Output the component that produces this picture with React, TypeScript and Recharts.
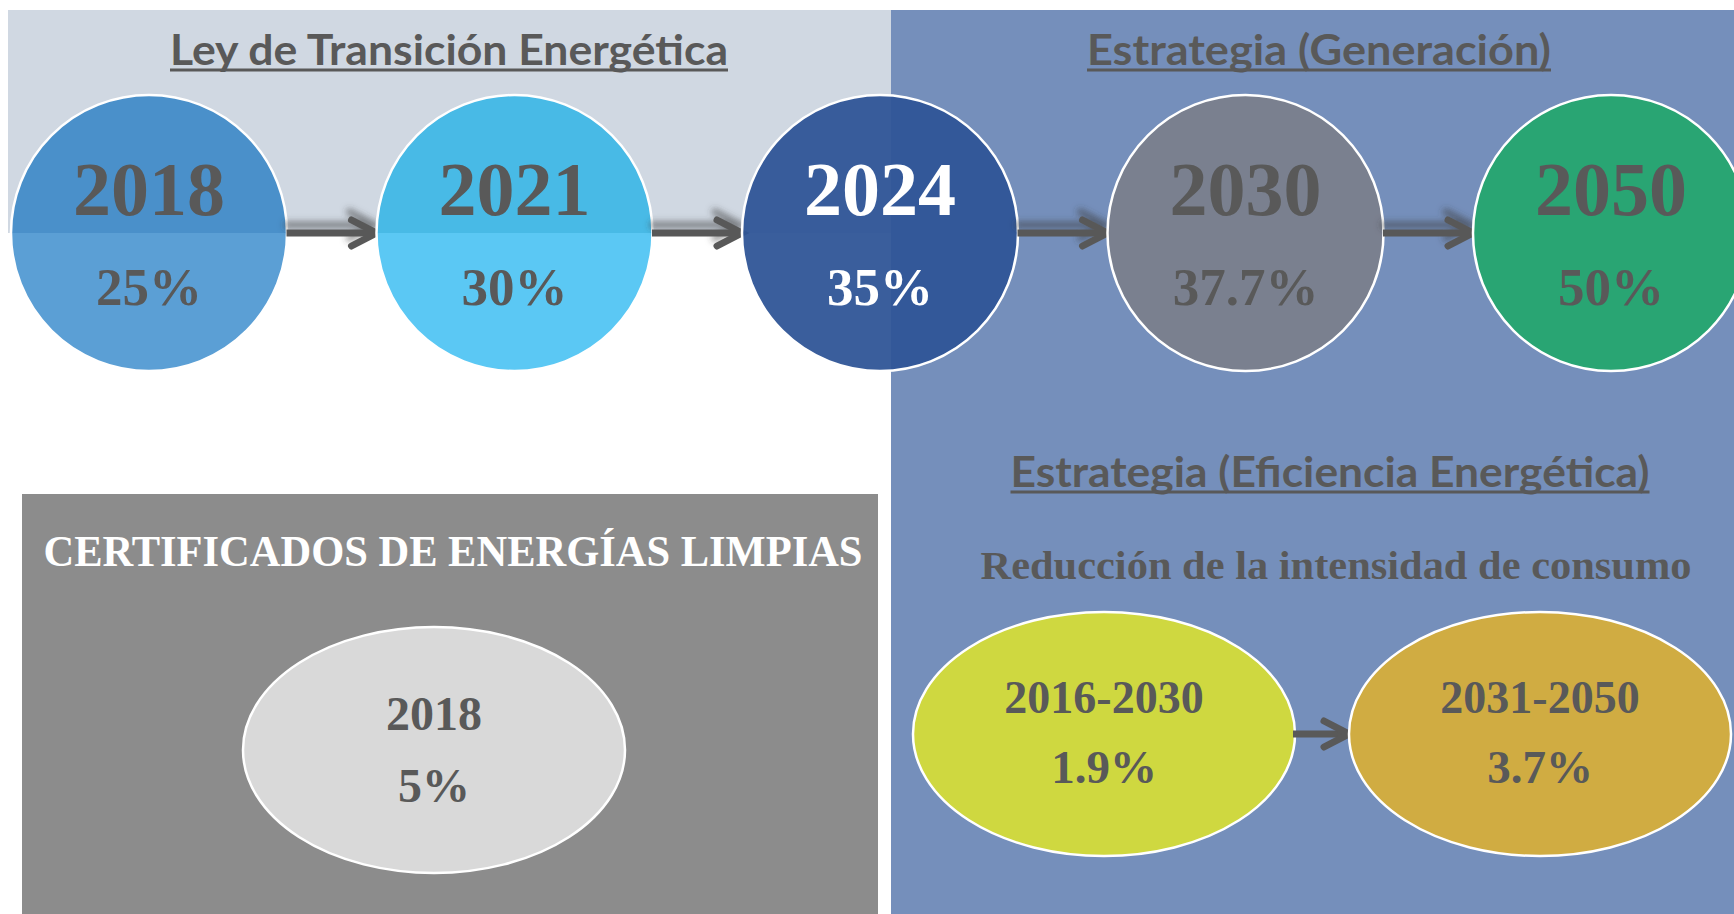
import React from 'react'
import { ScatterChart, Scatter, XAxis, YAxis } from 'recharts'

// Ley de Transición Energética / Estrategia (Generación)
const genYears = ['2018', '2021', '2024', '2030', '2050']
const genShares = [25, 30, 35, 37.7, 50]

// Certificados de energías limpias
const celYears = ['2018']
const celShares = [5]

// Estrategia (Eficiencia Energética): reducción de la intensidad de consumo
const effPeriods = ['2016-2030', '2031-2050']
const effRates = [1.9, 3.7]

const genFills = ['#5B9FD5', '#5BC8F4', '#2F5597', '#7A808F', '#29A573']
const genTopFills = ['#4A90CA', '#48BAE6', null, null, null]
const genText = ['#595959', '#595959', '#FFFFFF', '#595959', '#595959']
const effFills = ['#CFD840', '#D0AC42']

const DARK = '#595959'
const SERIF = "'Liberation Serif', 'Times New Roman', serif"
const SANS = "Lato, 'Open Sans', sans-serif"

const genData = genYears.map((year, i) => ({
  row: 'meta',
  year,
  pct: `${genShares[i]}%`,
  fill: genFills[i],
  topFill: genTopFills[i],
  color: genText[i],
  opacity: i === 2 ? 0.95 : 1,
  arrow: i > 0,
}))

const celData = celYears.map((year, i) => ({
  row: 'cel',
  year,
  pct: `${celShares[i]}%`,
  fill: '#D9D9D9',
  color: DARK,
  arrow: false,
}))

const effData = effPeriods.map((year, i) => ({
  row: 'eff',
  year,
  pct: `${effRates[i]}%`,
  fill: effFills[i],
  color: DARK,
  arrow: i > 0,
}))

function Arrow({ tipX, y, len, shadow }: any) {
  return (
    <g filter={shadow ? 'url(#arrowShadow)' : undefined}>
      <line x1={tipX - len} y1={y} x2={tipX - 4} y2={y} stroke={DARK} strokeWidth={7} />
      <polyline
        points={`${tipX - 25},${y - 13} ${tipX},${y} ${tipX - 25},${y + 13}`}
        fill="none"
        stroke={DARK}
        strokeWidth={7}
        strokeLinecap="round"
        strokeLinejoin="miter"
      />
    </g>
  )
}

function Bubble(props: any) {
  const { cx, cy, payload, rx, ry, arrowLen, shadow, yearSize, pctSize, yearDy, pctDy } = props
  if (cx == null || cy == null) return null
  return (
    <g>
      {payload.arrow && <Arrow tipX={cx - rx} y={cy} len={arrowLen} shadow={shadow} />}
      <ellipse cx={cx} cy={cy} rx={rx} ry={ry} fill={payload.fill} fillOpacity={payload.opacity ?? 1} />
      {payload.topFill && (
        <path d={`M${cx - rx},${cy} A${rx},${ry} 0 0 1 ${cx + rx},${cy} Z`} fill={payload.topFill} />
      )}
      <ellipse cx={cx} cy={cy} rx={rx} ry={ry} fill="none" stroke="#FFFFFF" strokeWidth={2.5} />
      <text
        x={cx}
        y={cy + yearDy}
        textAnchor="middle"
        fontFamily={SERIF}
        fontWeight={700}
        fontSize={yearSize}
        fill={payload.color}
      >
        {payload.year}
      </text>
      <text
        x={cx}
        y={cy + pctDy}
        textAnchor="middle"
        fontFamily={SERIF}
        fontWeight={700}
        fontSize={pctSize}
        fill={payload.color}
      >
        {payload.pct}
      </text>
    </g>
  )
}

function Title({ x, y, w, text, underline }: any) {
  return (
    <g>
      <text
        x={x}
        y={y}
        textAnchor="middle"
        fontFamily={SANS}
        fontWeight={700}
        fontSize={42}
        fill={DARK}
        textLength={w}
        lengthAdjust="spacingAndGlyphs"
      >
        {text}
      </text>
      {underline && <line x1={x - w / 2} x2={x + w / 2} y1={y + 5} y2={y + 5} stroke={DARK} strokeWidth={3} />}
    </g>
  )
}

export default function App() {
  return (
    <div style={{ position: 'relative', width: 1734, height: 914, background: '#FFFFFF', overflow: 'hidden' }}>
      <style>{`body { margin: 0; }`}</style>
      <svg width={0} height={0} style={{ position: 'absolute' }}>
        <defs>
          <filter id="arrowShadow" x="-20%" y="-200%" width="140%" height="500%">
            <feDropShadow dx={-2} dy={-8} stdDeviation={3} floodColor="#3A3A3A" floodOpacity={0.55} />
          </filter>
        </defs>
      </svg>

      {/* background panels */}
      <div style={{ position: 'absolute', left: 8, top: 10, width: 883, height: 223, background: '#D0D8E2' }} />
      <div style={{ position: 'absolute', left: 891, top: 10, width: 843, height: 904, background: '#758FBB' }} />
      <div style={{ position: 'absolute', left: 22, top: 494, width: 856, height: 420, background: '#8C8C8C' }} />

      {/* generation targets */}
      <div style={{ position: 'absolute', left: 0, top: 83 }}>
        <ScatterChart width={1734} height={300} margin={{ top: 0, right: 0, bottom: 0, left: 0 }}>
          <XAxis
            dataKey="year"
            type="category"
            scale="point"
            allowDuplicatedCategory={false}
            padding={{ left: 149, right: 123 }}
            hide
          />
          <YAxis dataKey="row" type="category" scale="point" allowDuplicatedCategory={false} hide />
          <Scatter
            data={genData}
            isAnimationActive={false}
            shape={(p: any) => (
              <Bubble {...p} rx={138} ry={138} arrowLen={90} shadow yearSize={76} pctSize={53} yearDy={-18} pctDy={72} />
            )}
          />
        </ScatterChart>
      </div>

      {/* clean energy certificates */}
      <div style={{ position: 'absolute', left: 22, top: 586 }}>
        <ScatterChart width={824} height={328} margin={{ top: 0, right: 0, bottom: 0, left: 0 }}>
          <XAxis dataKey="year" type="category" scale="point" allowDuplicatedCategory={false} hide />
          <YAxis dataKey="row" type="category" scale="point" allowDuplicatedCategory={false} hide />
          <Scatter
            data={celData}
            isAnimationActive={false}
            shape={(p: any) => (
              <Bubble {...p} rx={191} ry={123} arrowLen={0} yearSize={48} pctSize={48} yearDy={-20} pctDy={52} />
            )}
          />
        </ScatterChart>
      </div>

      {/* energy efficiency */}
      <div style={{ position: 'absolute', left: 891, top: 584 }}>
        <ScatterChart width={843} height={300} margin={{ top: 0, right: 0, bottom: 0, left: 0 }}>
          <XAxis
            dataKey="year"
            type="category"
            scale="point"
            allowDuplicatedCategory={false}
            padding={{ left: 213, right: 194 }}
            hide
          />
          <YAxis dataKey="row" type="category" scale="point" allowDuplicatedCategory={false} hide />
          <Scatter
            data={effData}
            isAnimationActive={false}
            shape={(p: any) => (
              <Bubble {...p} rx={191} ry={122} arrowLen={56} yearSize={46} pctSize={47} yearDy={-21} pctDy={49} />
            )}
          />
        </ScatterChart>
      </div>

      {/* titles */}
      <svg width={1734} height={914} style={{ position: 'absolute', left: 0, top: 0, pointerEvents: 'none' }}>
        <Title x={449} y={65} w={558} text="Ley de Transición Energética" underline />
        <Title x={1319} y={65} w={464} text="Estrategia (Generación)" underline />
        <Title x={1330} y={487} w={639} text="Estrategia (Eficiencia Energética)" underline />
        <text
          x={1336}
          y={579}
          textAnchor="middle"
          fontFamily={SERIF}
          fontWeight={700}
          fontSize={40}
          fill={DARK}
          textLength={711}
          lengthAdjust="spacingAndGlyphs"
        >
          Reducción de la intensidad de consumo
        </text>
        <text
          x={453}
          y={566}
          textAnchor="middle"
          fontFamily={SERIF}
          fontWeight={700}
          fontSize={44}
          fill="#FFFFFF"
          textLength={819}
          lengthAdjust="spacingAndGlyphs"
        >
          CERTIFICADOS DE ENERGÍAS LIMPIAS
        </text>
      </svg>
    </div>
  )
}
